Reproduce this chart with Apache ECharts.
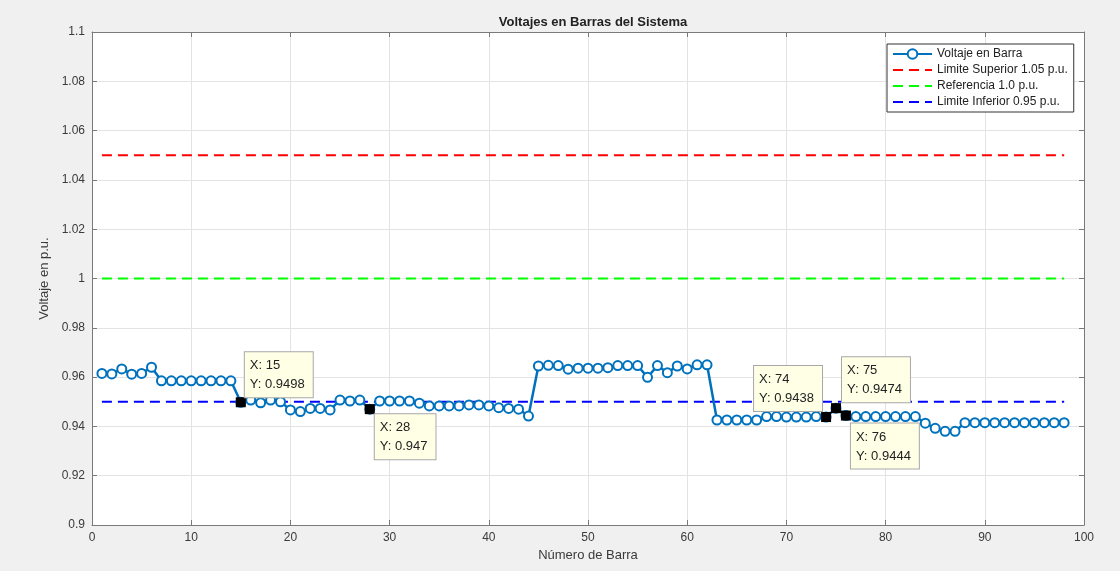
<!DOCTYPE html>
<html>
<head>
<meta charset="utf-8">
<script src="https://cdn.jsdelivr.net/npm/echarts@6/dist/echarts.min.js"></script>
<style>
html,body{margin:0;padding:0;background:#f0f0f0;}
#c{width:1120px;height:571px;}
</style>
</head>
<body>
<div id="c"></div>
<script>
// ---- data ----
var barNumbers = [];
for (var i = 1; i <= 98; i++) barNumbers.push(i);
var voltages = [
  0.9615,0.9613,0.9633,0.9612,0.9615,0.9640,0.9585,0.9585,0.9585,0.9585,
  0.9585,0.9585,0.9585,0.9585,0.9498,0.9507,0.9496,0.9507,0.9500,0.9467,
  0.9460,0.9473,0.9473,0.9467,0.9507,0.9503,0.9507,0.9470,0.9503,0.9503,
  0.9503,0.9503,0.9494,0.9483,0.9483,0.9483,0.9483,0.9487,0.9487,0.9483,
  0.9476,0.9473,0.9470,0.9442,0.9645,0.9648,0.9647,0.9632,0.9636,0.9636,
  0.9636,0.9638,0.9647,0.9647,0.9647,0.9599,0.9647,0.9618,0.9645,0.9633,
  0.9650,0.9650,0.9426,0.9426,0.9426,0.9426,0.9426,0.9440,0.9440,0.9438,
  0.9438,0.9438,0.9440,0.9438,0.9474,0.9444,0.9440,0.9440,0.9440,0.9440,
  0.9440,0.9440,0.9440,0.9413,0.9392,0.9380,0.9380,0.9415,0.9415,0.9415,
  0.9415,0.9415,0.9415,0.9415,0.9415,0.9415,0.9415,0.9415
];
var upperLimit = 1.05;
var referenceLevel = 1.0;
var lowerLimit = 0.95;
var tipBars = [15, 28, 74, 75, 76];
var xTicks = [0,10,20,30,40,50,60,70,80,90,100];
var yTicks = [0.9,0.92,0.94,0.96,0.98,1,1.02,1.04,1.06,1.08,1.1];
var seriesNames = ['Voltaje en Barra','Limite Superior 1.05 p.u.','Referencia 1.0 p.u.','Limite Inferior 0.95 p.u.'];

// ---- layout (label offsets for data tips, in px) ----
var tipOffsets = {15:[9,-45], 28:[10,10], 74:[-67,-46], 75:[11,-46], 76:[10,13]};

var mainData = barNumbers.map(function(n, i){ return [n, voltages[i]]; });
function hline(v){ return [[barNumbers[0], v], [barNumbers[barNumbers.length-1], v]]; }
var tipData = tipBars.map(function(n){ return { value:[n, voltages[n-1]], label:{ position: tipOffsets[n] } }; });

function fmtY(v){ return String(parseFloat(v.toFixed(2))); }

var axisColor = '#7a7a7a';
var textColor = '#3a3a3a';
var fontFam = 'Liberation Sans, Arial, sans-serif';

var chart = echarts.init(document.getElementById('c'), null, {renderer:'canvas'});
chart.setOption({
  backgroundColor: '#f0f0f0',
  animation: false,
  title: {
    text: 'Voltajes en Barras del Sistema',
    left: 588, top: 11, textAlign: 'center',
    textStyle: { fontSize: 13, fontWeight: 'bold', color: '#222', fontFamily: fontFam }
  },
  legend: {
    orient: 'vertical',
    left: 887, top: 44,
    data: [
      { name: seriesNames[0] },
      { name: seriesNames[1], itemStyle: { opacity: 0 } },
      { name: seriesNames[2], itemStyle: { opacity: 0 } },
      { name: seriesNames[3], itemStyle: { opacity: 0 } }
    ],
    itemWidth: 39, itemHeight: 12, itemGap: 4,
    padding: [4, 6, 4, 5],
    backgroundColor: '#fff',
    borderColor: '#333', borderWidth: 1, borderRadius: 0,
    textStyle: { fontSize: 12, color: '#222', fontFamily: fontFam }
  },
  grid: { left: 92, top: 32, right: 36, bottom: 46, show: true, backgroundColor: '#fff', borderWidth: 0 },
  xAxis: [{
    type: 'value', min: 0, max: 100, interval: 10,
    name: 'Número de Barra', nameLocation: 'middle', nameGap: 20,
    nameTextStyle: { fontSize: 13, color: textColor, fontFamily: fontFam },
    axisLine: { show: true, onZero: false, lineStyle: { color: axisColor, width: 1 } },
    axisTick: { show: true, inside: true, length: 5, lineStyle: { color: axisColor } },
    axisLabel: { fontSize: 12, color: textColor, margin: 7, fontFamily: fontFam },
    splitLine: { show: true, lineStyle: { color: '#e3e3e3', width: 1 } }
  }, {
    type: 'value', min: 0, max: 100, interval: 10, position: 'top',
    axisLine: { show: true, onZero: false, lineStyle: { color: axisColor, width: 1 } },
    axisTick: { show: true, inside: true, length: 5, lineStyle: { color: axisColor } },
    axisLabel: { show: false }, splitLine: { show: false }
  }],
  yAxis: [{
    type: 'value', min: 0.9, max: 1.1, interval: 0.02,
    name: 'Voltaje en p.u.', nameLocation: 'middle', nameGap: 30, nameRotate: 90,
    nameTextStyle: { fontSize: 13, color: textColor, fontFamily: fontFam },
    axisLine: { show: true, onZero: false, lineStyle: { color: axisColor, width: 1 } },
    axisTick: { show: true, inside: true, length: 5, lineStyle: { color: axisColor } },
    axisLabel: { fontSize: 12, color: textColor, margin: 7, fontFamily: fontFam, formatter: fmtY },
    splitLine: { show: true, lineStyle: { color: '#e3e3e3', width: 1 } }
  }, {
    type: 'value', min: 0.9, max: 1.1, interval: 0.02, position: 'right',
    axisLine: { show: true, onZero: false, lineStyle: { color: axisColor, width: 1 } },
    axisTick: { show: true, inside: true, length: 5, lineStyle: { color: axisColor } },
    axisLabel: { show: false }, splitLine: { show: false }
  }],
  series: [{
    name: seriesNames[0], type: 'line', data: mainData,
    symbol: 'emptyCircle', symbolSize: 9,
    lineStyle: { color: '#0072BD', width: 2.5 },
    itemStyle: { color: '#0072BD', borderWidth: 2 },
    z: 3
  }, {
    name: seriesNames[1], type: 'line', data: hline(upperLimit), symbol: 'none',
    lineStyle: { color: '#ff0000', width: 2, type: [10, 6] }, itemStyle: { color: '#ff0000' }
  }, {
    name: seriesNames[2], type: 'line', data: hline(referenceLevel), symbol: 'none',
    lineStyle: { color: '#00ff00', width: 2, type: [10, 6] }, itemStyle: { color: '#00ff00' }
  }, {
    name: seriesNames[3], type: 'line', data: hline(lowerLimit), symbol: 'none',
    lineStyle: { color: '#0000ff', width: 2, type: [10, 6] }, itemStyle: { color: '#0000ff' },
    z: 2
  }, {
    name: 'datatips', type: 'scatter', data: tipData, zlevel: 1,
    symbol: 'rect', symbolSize: 10, itemStyle: { color: '#000', opacity: 1 }, z: 10,
    emphasis: { disabled: true },
    label: {
      show: true,
      formatter: function(p){ return 'X: ' + p.value[0] + '\nY: ' + String(parseFloat(p.value[1].toFixed(4))); },
      fontSize: 13, lineHeight: 19, color: '#222', fontFamily: fontFam,
      backgroundColor: '#ffffe6', borderColor: '#a8a8a8', borderWidth: 1,
      padding: [4, 8, 3, 5], align: 'left', verticalAlign: 'top'
    }
  }]
});
</script>
</body>
</html>
